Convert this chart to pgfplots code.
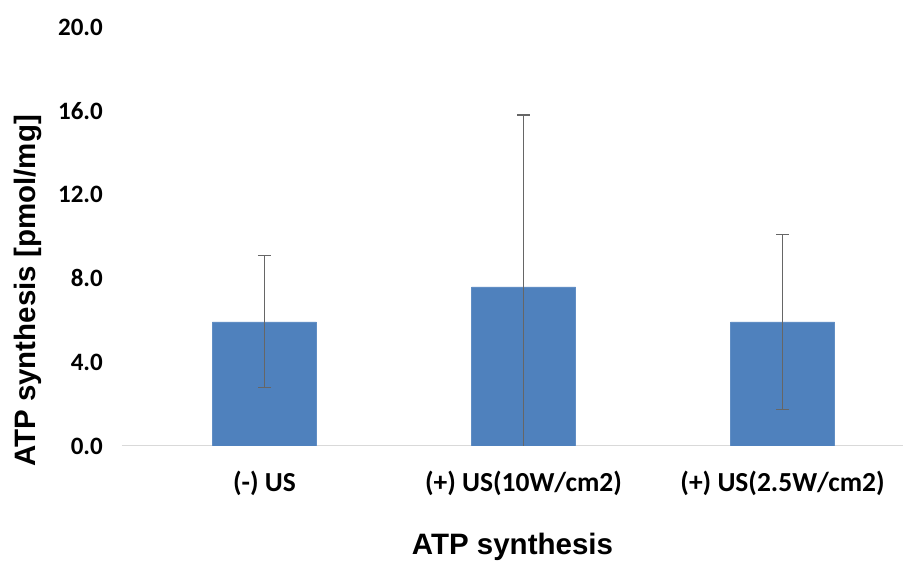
\documentclass[border=0pt]{standalone}
\usepackage{pgfplots}
\pgfplotsset{compat=1.18}
\usepackage{fontspec}
\setmainfont{Carlito}
\newfontfamily\arialfont{Liberation Sans}
\definecolor{barblue}{HTML}{4F81BD}
\definecolor{errgrey}{HTML}{666666}
\definecolor{axgrey}{HTML}{D9D9D9}
\begin{document}
\begin{tikzpicture}[x=1pt,y=1pt]
\begin{axis}[
  scale only axis,
  width=781pt, height=419pt,
  at={(0,0)}, anchor=south west,
  xmin=-0.55, xmax=2.465,
  ymin=0, ymax=20,
  ytick={0,4,8,12,16,20},
  yticklabels={0.0,4.0,8.0,12.0,16.0,20.0},
  xtick={0,1,2},
  xticklabels={(-) US,(+) US(10W/cm2),(+) US(2.5W/cm2)},
  tick style={draw=none},
  axis line style={draw=none},
  axis x line*=bottom,
  axis y line*=left,
  yticklabel style={font=\fontsize{25}{28}\selectfont\bfseries, anchor=east, inner sep=0pt, xshift=-19pt},
  xticklabel style={font=\fontsize{27.5}{30}\selectfont\bfseries, anchor=center, inner sep=0pt, yshift=-37pt},
  ylabel={\arialfont\bfseries ATP synthesis [pmol/mg]},
  ylabel style={font=\fontsize{29.5}{32}\selectfont, at={(axis description cs:-0.1204,0.37)}, anchor=center},
  xlabel={\arialfont\bfseries ATP synthesis},
  xlabel style={font=\fontsize{29.5}{32}\selectfont, at={(axis description cs:0.5,-0.241)}, anchor=center},
  clip=true,
]
\draw[axgrey, line width=1pt] (rel axis cs:0,0) -- (rel axis cs:1,0);
\addplot[ybar, bar width=104pt, fill=barblue, draw=barblue!90!white, bar shift=0pt,
  error bars/.cd, y dir=both, y explicit,
  error bar style={errgrey, line width=1.3pt},
  error mark options={rotate=90, mark size=6.5pt, line width=1.3pt, errgrey}]
  coordinates {
    (0,5.93) +- (0,3.15)
    (1,7.60) +- (0,8.20)
    (2,5.92) +- (0,4.17)
  };
\end{axis}
\pgfresetboundingbox
\path (-122,-116) rectangle (781,446);
\end{tikzpicture}
\end{document}
